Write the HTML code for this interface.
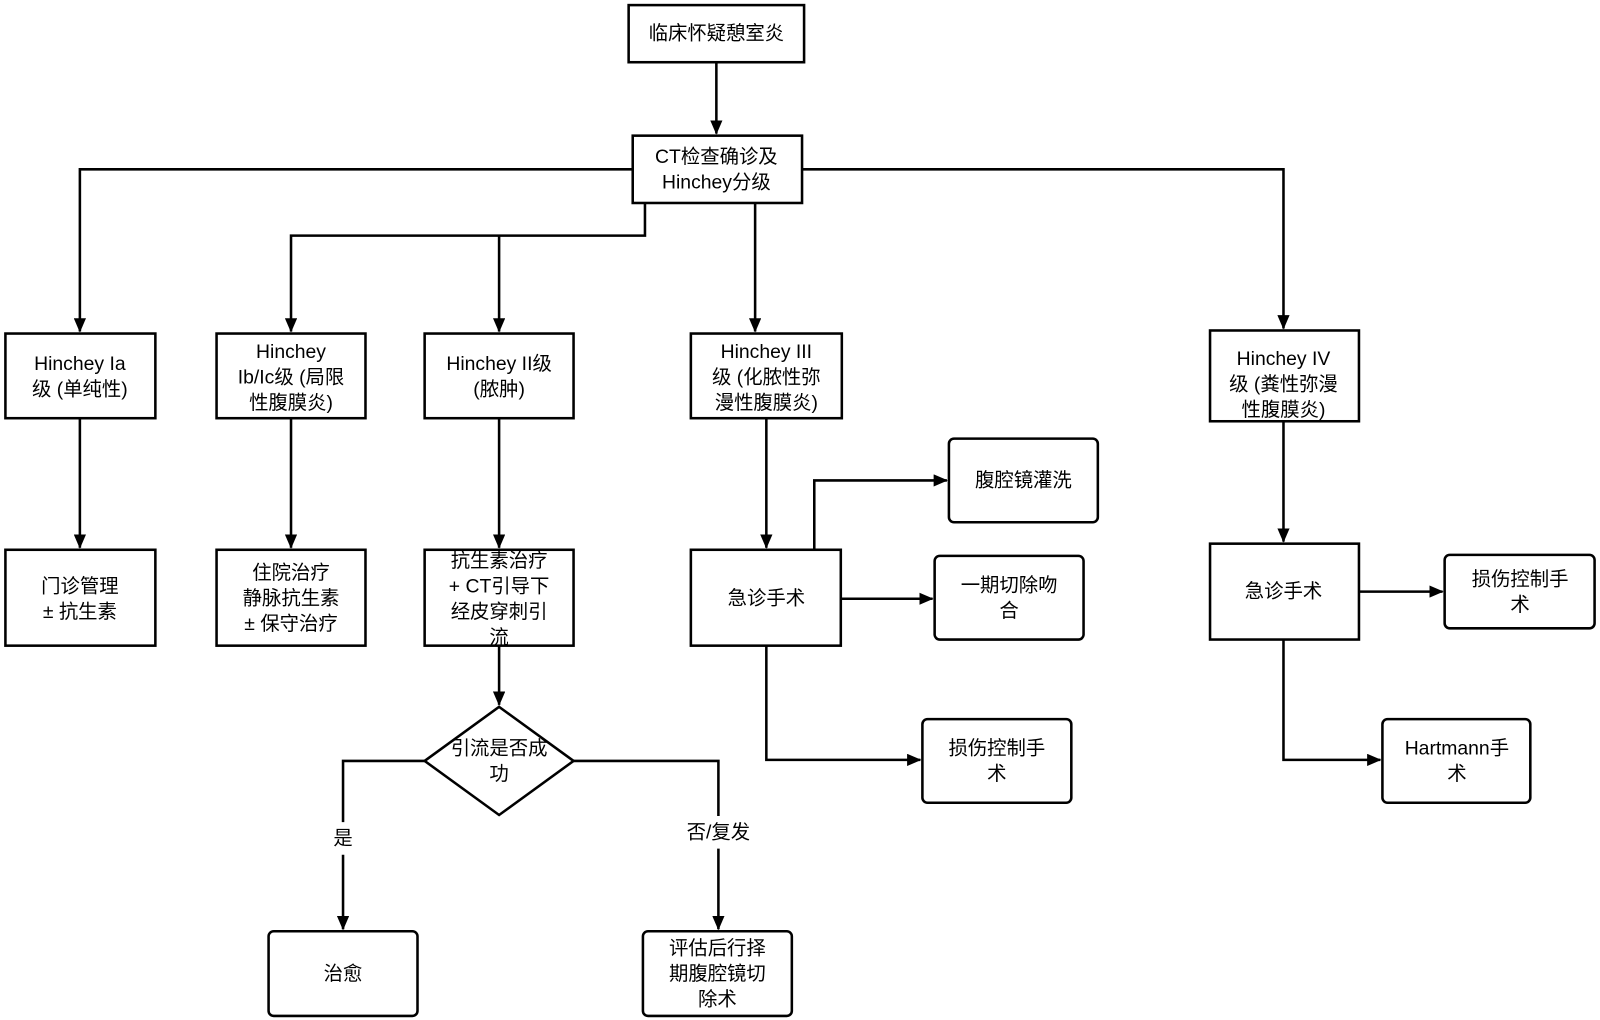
<!DOCTYPE html>
<html><head><meta charset="utf-8"><style>
html,body{margin:0;padding:0;background:#fff;}
svg{display:block}
text{font-family:"Liberation Sans","Noto Sans CJK SC",sans-serif;font-size:19px;fill:#000;text-anchor:middle;dominant-baseline:central}
</style></head><body>
<svg width="1600" height="1020" viewBox="0 0 1568 1000" xmlns="http://www.w3.org/2000/svg">
<defs><marker id="a" markerWidth="14" markerHeight="12" refX="13" refY="6" orient="auto" markerUnits="userSpaceOnUse"><path d="M0,0 L14,6 L0,12 Z" fill="#000"/></marker></defs>
<g fill="none" stroke="#000" stroke-width="2.5">
<path d="M702,61 V131" marker-end="url(#a)"/>
<path d="M620,166 H78 V325" marker-end="url(#a)"/>
<path d="M786,166 H1258 V322" marker-end="url(#a)"/>
<path d="M632,199 V231 H285 V325" marker-end="url(#a)"/>
<path d="M489,231 V325" marker-end="url(#a)"/>
<path d="M740,199 V325" marker-end="url(#a)"/>
<path d="M78,410 V537" marker-end="url(#a)"/>
<path d="M285,410 V537" marker-end="url(#a)"/>
<path d="M489,410 V537" marker-end="url(#a)"/>
<path d="M751,410 V537" marker-end="url(#a)"/>
<path d="M1258,413 V531" marker-end="url(#a)"/>
<path d="M798,539 V471 H928" marker-end="url(#a)"/>
<path d="M824,587 H914" marker-end="url(#a)"/>
<path d="M751,633 V745 H902" marker-end="url(#a)"/>
<path d="M1332,580 H1414" marker-end="url(#a)"/>
<path d="M1258,627 V745 H1353" marker-end="url(#a)"/>
<path d="M489,633 V691" marker-end="url(#a)"/>
<path d="M416,746 H336 V806 M336,838 V911" marker-end="url(#a)"/>
<path d="M562,746 H704 V800 M704,832 V911" marker-end="url(#a)"/>
<rect x="616" y="5" width="172" height="56"/>
<rect x="620" y="133" width="166" height="66"/>
<rect x="5" y="327" width="147" height="83"/>
<rect x="212" y="327" width="146" height="83"/>
<rect x="416" y="327" width="146" height="83"/>
<rect x="677" y="327" width="148" height="83"/>
<rect x="1186" y="324" width="146" height="89"/>
<rect x="5" y="539" width="147" height="94"/>
<rect x="212" y="539" width="146" height="94"/>
<rect x="416" y="539" width="146" height="94"/>
<rect x="677" y="539" width="147" height="94"/>
<rect x="1186" y="533" width="146" height="94"/>
<rect x="930" y="430" width="146" height="82" rx="5"/>
<rect x="916" y="545" width="146" height="82" rx="5"/>
<rect x="904" y="705" width="146" height="82" rx="5"/>
<rect x="1416" y="544" width="147" height="72" rx="5"/>
<rect x="1355" y="705" width="145" height="82" rx="5"/>
<rect x="263" y="913" width="146" height="83" rx="5"/>
<rect x="630" y="913" width="146" height="83" rx="5"/>
<path d="M489,693 L562,746 L489,799 L416,746 Z"/>
</g>
<text x="702" y="33">临床怀疑憩室炎</text>
<text x="702" y="154">CT检查确诊及</text><text x="702" y="179">Hinchey分级</text>
<text x="78" y="357">Hinchey Ia</text><text x="78" y="382">级 (单纯性)</text>
<text x="285" y="345">Hinchey</text><text x="285" y="370">Ib/Ic级 (局限</text><text x="285" y="395">性腹膜炎)</text>
<text x="489" y="357">Hinchey II级</text><text x="489" y="382">(脓肿)</text>
<text x="751" y="345">Hinchey III</text><text x="751" y="370">级 (化脓性弥</text><text x="751" y="395">漫性腹膜炎)</text>
<text x="1258" y="352">Hinchey IV</text><text x="1258" y="377">级 (粪性弥漫</text><text x="1258" y="402">性腹膜炎)</text>
<text x="78" y="575">门诊管理</text><text x="78" y="600">± 抗生素</text>
<text x="285" y="562">住院治疗</text><text x="285" y="587">静脉抗生素</text><text x="285" y="612">± 保守治疗</text>
<text x="489" y="550">抗生素治疗</text><text x="489" y="575">+ CT引导下</text><text x="489" y="600">经皮穿刺引</text><text x="489" y="625">流</text>
<text x="751" y="587">急诊手术</text>
<text x="1258" y="580">急诊手术</text>
<text x="1003" y="471">腹腔镜灌洗</text>
<text x="989" y="574">一期切除吻</text><text x="989" y="599">合</text>
<text x="977" y="734">损伤控制手</text><text x="977" y="759">术</text>
<text x="1490" y="568">损伤控制手</text><text x="1490" y="593">术</text>
<text x="1428" y="734">Hartmann手</text><text x="1428" y="759">术</text>
<text x="489" y="734">引流是否成</text><text x="489" y="759">功</text>
<text x="336" y="822">是</text>
<text x="704" y="816">否/复发</text>
<text x="336" y="955">治愈</text>
<text x="703" y="930">评估后行择</text><text x="703" y="955">期腹腔镜切</text><text x="703" y="980">除术</text>
</svg>
</body></html>
